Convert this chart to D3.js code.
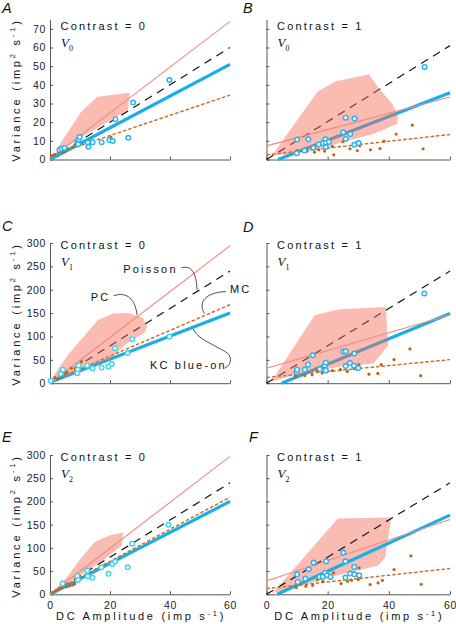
<!DOCTYPE html>
<html><head><meta charset="utf-8">
<script src="https://cdn.jsdelivr.net/npm/d3@7"></script>
<style>body{margin:0;background:#fff} svg{display:block}</style>
</head><body>
<svg id="chart" width="456" height="624"></svg>
<script>
// ---------------- data ----------------
const xTicks = [0, 20, 40, 60];
const yTicksTop = [0, 10, 20, 30, 40, 50, 60, 70];
const yTicksLow = [0, 50, 100, 150, 200, 250, 300];
const panelLetters = ["A", "B", "C", "D", "E", "F"];
const contrastLabels = ["Contrast = 0", "Contrast = 1", "Contrast = 0", "Contrast = 1", "Contrast = 0", "Contrast = 1"];
const areaSubs = ["0", "0", "1", "1", "2", "2"];

// fitted lines: [value at DC = 0, value at DC = 60]
const pcLines = [[0.5, 74], [7.3, 33.5], [0, 294], [32, 146], [0, 297], [28.8, 161]];
const poissonLines = [[0, 60], [0, 61], [0, 240], [0, 240], [0, 240], [0, 240]];
const mcLines = [[2, 34.5], [2.5, 13.4], [3, 168], [12.3, 50.4], [2, 209], [12.2, 55.5]];
const kcLines = [[0, 51], [-2.4, 35.8], [2, 150], [-13.3, 149], [0, 200], [-10.6, 170.5]];

// KC blue-on cells [DC amplitude, variance]
const aKC = [[3.2,5.2],[4.0,5.8],[4.8,6.2],[9.1,9.0],[9.4,8.2],[9.6,10.8],[9.9,12.0],[12.6,9.2],[12.8,6.8],[14.2,9.2],[17.2,9.3],[19.8,10.4],[20.9,9.9],[21.8,21.6],[26.1,11.6],[27.7,30.5],[39.8,42.6]];
const bKC = [[10.0,10.7],[13.7,10.8],[9.9,3.4],[12.4,4.8],[15.3,6.3],[17.1,8.1],[18.5,8.8],[19.2,10.8],[19.4,9.0],[19.4,6.7],[20.4,9.4],[25.1,14.6],[25.9,11.0],[27.4,13.6],[25.9,22.4],[28.8,21.9],[28.7,7.9],[30.1,8.8],[51.7,49.6]];
const cKC = [[0.3,5],[3.6,20],[4.3,29],[9.1,21.5],[9.3,30],[9.6,38],[12.4,38],[14.2,32],[17.2,33.5],[19.5,35.8],[20.6,41],[21.7,75],[25.9,64.6],[27.4,94.3],[39.8,99.8]];
const dKC = [[9.8,23.7],[10.0,29],[12.5,28.9],[13.6,39.6],[15.1,59.8],[17.4,30.2],[18.8,36],[19.1,38],[19.4,44],[19.4,27.4],[25.1,67.7],[25.9,68.4],[28.7,63.4],[25.9,36.8],[27.3,43.2],[28.6,37.5],[30.0,32.4],[51.6,192]];
const eKC = [[4.2,23],[9.1,39.5],[9.3,31],[12.4,51],[12.6,39],[14.1,35.5],[17.1,58],[19.5,44],[20.8,65.4],[21.7,70.4],[25.9,58],[27.4,109],[39.5,149.6]];
const fKC = [[10.0,43],[10.2,26.6],[12.7,33.8],[13.8,54],[15.4,68.4],[17.3,37.4],[18.4,38],[19.2,46],[19.5,71.2],[19.8,41],[20.9,37.4],[25.1,90],[25.8,71.2],[25.8,36],[27.4,44.6],[28.7,59],[28.7,43],[30.3,41]];

// MC cells [DC amplitude, variance]
const aMC = [[0.7,2.0],[1.5,2.6],[2.8,4.2],[3.5,4.6],[4.3,4.0],[5.0,4.3],[7.6,6.6],[20.3,12.0]];
const bMC = [[10.0,4.8],[12.0,4.8],[13.3,4.5],[15.7,3.9],[17.1,5.2],[19.0,4.5],[21.5,7.0],[22.0,2.5],[25.0,9.5],[27.3,5.7],[29.7,4.8],[30.5,7.3],[34.0,5.2],[37.1,5.9],[38.4,9.8],[42.4,13.6],[47.7,18.4],[51.2,5.7]];
const cMC = [[0.8,4],[1.6,12],[2.6,10],[3.6,15],[4.3,20],[5.4,24],[7.1,32],[8.5,28],[10.5,46]];
const dMC = [[9.5,14.5],[12.5,16.6],[14.9,18.1],[16.6,26.8],[18.2,21.6],[19.8,26.8],[21.5,26.8],[24.2,28.9],[26.4,25.3],[28.6,31.1],[30.2,39.7],[29.9,28.9],[33.5,19.4],[36.4,20.9],[37.5,39.7],[41.7,50.5],[46.9,73.4],[50.4,16]];
const eMC = [[1,4],[2,8],[3,12],[4,14],[5.5,16],[6.5,18],[7.5,20],[8.2,22]];
const fMC = [[9.7,14.4],[12.9,17.3],[15.1,19.4],[16.7,31.7],[18.4,28],[21.9,46],[24.4,23],[26.5,28],[27.8,30.2],[30,31.7],[30.3,56.8],[33.9,20.9],[36.5,24.4],[37.9,30.2],[41.7,53.2],[47.2,82.7],[50.6,21.6]];

// PC range regions [DC amplitude, variance]
const aPC = [[1.6,4.2],[10.4,25.6],[15.8,33.6],[26.6,35.8],[26,26.5],[12.7,14],[6,6.9]];
const bPC = [[1.8,2.1],[16.6,36.1],[22.6,41.9],[33.5,45.5],[37.3,37.0],[41.1,29.8],[43.0,23.6],[42.8,19.1],[35.1,13.8],[20.9,7.5],[7.9,3.0]];
const cPC = [[0.4,8.6],[6,61],[16,135],[21,149],[26,150],[31,140],[32.4,120],[31.6,109],[24.9,82],[20,50],[12,35],[5,15]];
const dPC = [[1.5,3],[15.8,146],[24,158],[39,163],[39.8,80],[34.9,42],[24,35],[12,22],[5,10]];
const ePC = [[1.5,9],[6,40],[10,75],[15,113],[20,127],[24.3,133],[24,105],[16,65],[8,33]];
const fPC = [[2,2],[23.3,163],[40.8,165.5],[38.8,80],[36.5,62],[21,37],[10,16]];

// panel C annotations (data coords)
const annoLabels = ["Poisson", "PC", "MC", "KC blue-on"];
const annoPos = [[24.4, 236], [13.6, 175], [60, 193.5], [33.3, 30.6]];
const annoLeaders = [
  [[43.8, 247], [47.2, 253], [48.8, 236], [49, 200]],
  [[21.2, 187], [25.5, 197], [28.5, 180], [29, 146]],
  [[58.6, 196], [51.5, 194], [49.3, 172], [51.5, 149]],
  [[47.8, 116], [49, 98], [52, 90], [58.3, 68], [60.8, 60], [60.8, 40], [58.2, 32]]
];

// ---------------- drawing ----------------
const FONT = "'Liberation Sans', Arial, Helvetica, sans-serif";
const SERIF = "'Liberation Serif', 'Times New Roman', serif";
const cols = [[50, 230], [266.5, 450]];
const rows = [
  {b: 159.5, t: 19.5, max: 75, ticks: yTicksTop, cb: 29.5, title: 90},
  {b: 383.2, t: 243, max: 300, ticks: yTicksLow, cb: 248.5, title: 314},
  {b: 594.3, t: 455, max: 300, ticks: yTicksLow, cb: 460.5, title: 526}
];
const letterX = [2, 243, 2, 243, 2, 249];
const letterY = [12.5, 12.5, 230.5, 231.5, 441.5, 441.5];
const kcSets = [aKC, bKC, cKC, dKC, eKC, fKC];
const mcSets = [aMC, bMC, cMC, dMC, eMC, fMC];
const pcSets = [aPC, bPC, cPC, dPC, ePC, fPC];
const circleCol = ["#26b2ec", "#26b2ec", "#36d6ee", "#26b2ec", "#36d6ee", "#26b2ec"];
const polyOnTop = [true, true, true, true, true, false];

const svg = d3.select("#chart");

panelLetters.forEach((L, i) => {
  const r = rows[Math.floor(i / 2)], c = cols[i % 2];
  const x = d3.scaleLinear([0, 60], c);
  const y = d3.scaleLinear([0, r.max], [r.b, r.t]);
  const g = svg.append("g");

  // axes
  const ya = d3.axisLeft(y).tickValues(r.ticks).tickSize(-3).tickSizeOuter(0).tickPadding(4);
  if (i % 2) ya.tickFormat("");
  const xa = d3.axisBottom(x).tickValues(xTicks).tickSize(-3).tickSizeOuter(0).tickPadding(7);
  if (i < 4) xa.tickFormat("");
  [g.append("g").attr("transform", `translate(${c[0]},0)`).call(ya),
   g.append("g").attr("transform", `translate(0,${r.b})`).call(xa)].forEach(a => {
    a.selectAll("path,line").attr("stroke", "#444").attr("stroke-width", 0.9);
    a.selectAll("text").attr("font-family", FONT).attr("font-size", 10.5)
      .attr("letter-spacing", 0.6).attr("fill", "#222");
  });

  const seg = ([y0, y60]) => {
    const m = (y60 - y0) / 60;
    const xs = y0 < 0 ? -y0 / m : 0;
    return [[xs, y0 + m * xs], [60, y60]];
  };
  const line = d3.line().x(d => x(d[0])).y(d => y(d[1]));

  const drawPoly = () => g.append("path").datum(pcSets[i])
    .attr("d", d3.line().x(d => x(d[0])).y(d => y(d[1])).curve(d3.curveLinearClosed))
    .attr("fill", "#f16b57").attr("fill-opacity", 0.46).attr("stroke", "none");

  if (!polyOnTop[i]) drawPoly();
  g.append("path").datum(seg(poissonLines[i])).attr("d", line)
    .attr("stroke", "#151515").attr("stroke-width", 1.2).attr("stroke-dasharray", "8,6").attr("fill", "none");
  g.append("path").datum(seg(kcLines[i])).attr("d", line)
    .attr("stroke", "#17aeea").attr("stroke-width", 3.2).attr("fill", "none");
  g.append("path").datum(seg(mcLines[i])).attr("d", line)
    .attr("stroke", "#cf661a").attr("stroke-width", 1.4).attr("stroke-dasharray", "3.5,2").attr("fill", "none");
  if (polyOnTop[i]) drawPoly();
  g.append("path").datum(seg(pcLines[i])).attr("d", line)
    .attr("stroke", "#f28a78").attr("stroke-width", 1.1).attr("fill", "none");

  g.selectAll("circle.mc").data(mcSets[i]).join("circle").attr("class", "mc")
    .attr("cx", d => x(d[0])).attr("cy", d => y(d[1])).attr("r", 1.6).attr("fill", "#c4611b");
  g.selectAll("circle.kc").data(kcSets[i]).join("circle").attr("class", "kc")
    .attr("cx", d => x(d[0])).attr("cy", d => y(d[1])).attr("r", 2.3)
    .attr("fill", "#fff").attr("stroke", circleCol[i]).attr("stroke-width", 1.4);

  // labels
  g.append("text").attr("x", c[0] + 10.5).attr("y", r.cb).text(contrastLabels[i])
    .attr("font-family", FONT).attr("font-size", 11).attr("letter-spacing", 2.2).attr("fill", "#111");
  const v = g.append("text").attr("x", c[0] + 11).attr("y", r.cb + 17)
    .attr("font-family", SERIF).attr("fill", "#111");
  v.append("tspan").text("V").attr("font-style", "italic").attr("font-size", 13);
  v.append("tspan").text(areaSubs[i]).attr("font-size", 8).attr("dy", 4);
  g.append("text").attr("x", letterX[i]).attr("y", letterY[i]).text(L)
    .attr("font-family", FONT).attr("font-style", "italic").attr("font-size", 14.5).attr("fill", "#111");

  if (i % 2 === 0) {
    const t = g.append("text").attr("transform", `translate(19.5,${r.title}) rotate(-90)`)
      .attr("text-anchor", "middle").attr("font-family", FONT).attr("font-size", 11)
      .attr("letter-spacing", 2.8).attr("fill", "#111");
    t.append("tspan").text("Variance (imp");
    t.append("tspan").text("2").attr("font-size", 7.5).attr("dy", -4.5);
    t.append("tspan").text(" s").attr("dy", 4.5);
    t.append("tspan").text("-1").attr("font-size", 7.5).attr("dy", -4.5);
    t.append("tspan").text(")").attr("dy", 4.5);
  }
  if (i >= 4) {
    const t = g.append("text").attr("x", (c[0] + c[1]) / 2 + 1).attr("y", 620)
      .attr("text-anchor", "middle").attr("font-family", FONT).attr("font-size", 11)
      .attr("letter-spacing", 2.7).attr("fill", "#111");
    t.append("tspan").text("DC Amplitude (imp s");
    t.append("tspan").text("-1").attr("font-size", 7.5).attr("dy", -4.5);
    t.append("tspan").text(")").attr("dy", 4.5);
  }

  if (i === 2) {
    annoLabels.forEach((s, k) => {
      g.append("text").attr("x", x(annoPos[k][0])).attr("y", y(annoPos[k][1])).text(s)
        .attr("font-family", FONT).attr("font-size", 11).attr("letter-spacing", 2.2).attr("fill", "#111");
    });
    annoLeaders.forEach(pts => {
      const p = d3.path();
      p.moveTo(x(pts[0][0]), y(pts[0][1]));
      for (let j = 1; j + 2 < pts.length; j += 3) {
        p.bezierCurveTo(x(pts[j][0]), y(pts[j][1]), x(pts[j + 1][0]), y(pts[j + 1][1]), x(pts[j + 2][0]), y(pts[j + 2][1]));
      }
      g.append("path").attr("d", p.toString()).attr("fill", "none").attr("stroke", "#222").attr("stroke-width", 0.8);
    });
  }
});
</script>
</body></html>
